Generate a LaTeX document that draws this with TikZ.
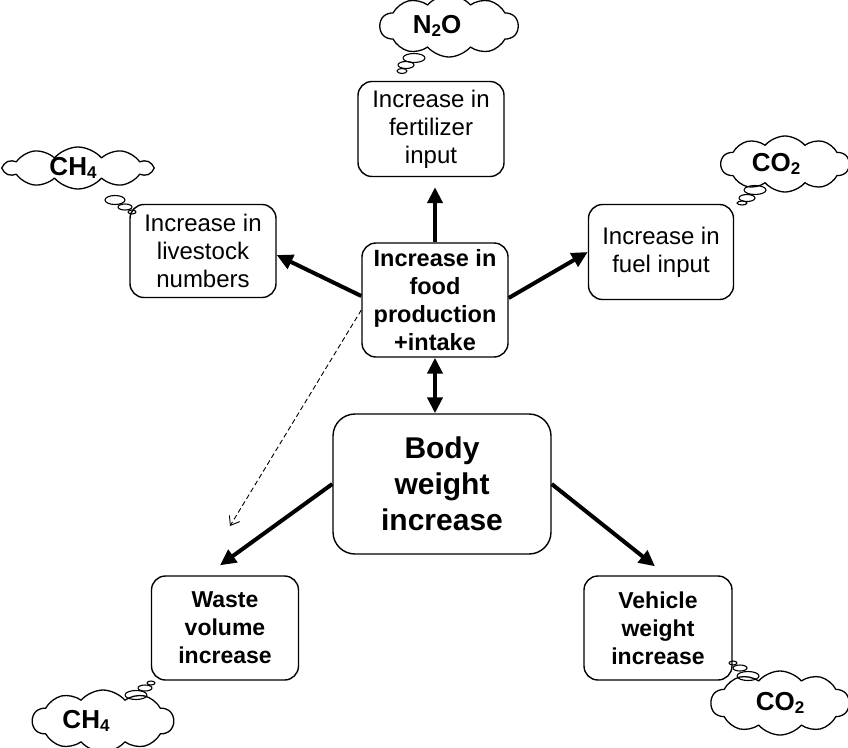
\documentclass[tikz,border=0pt]{standalone}
\usepackage{fontspec}
\setmainfont{Liberation Sans}
\usepackage{tikz}
\usetikzlibrary{arrows.meta,shapes.symbols,positioning}

\newcommand{\gassub}[1]{\raisebox{-0.25ex}{\fontsize{17}{17}\selectfont #1}}

\begin{document}
\begin{tikzpicture}[x=1pt,y=-1pt,>={Triangle[length=16pt,width=15pt]},line join=round]
  \tikzstyle{box}=[draw=black,line width=1.4pt,rounded corners=14pt,align=center,inner sep=0pt,font=\fontsize{24}{28}\selectfont]
  \tikzstyle{boldbox}=[box,font=\fontsize{23}{28}\selectfont\bfseries]
  \tikzstyle{gas}=[cloud,cloud puffs=10,cloud puff arc=100,cloud ignores aspect,draw=black,line width=1.3pt,inner sep=0pt,font=\fontsize{26}{26}\selectfont\bfseries]
  \tikzstyle{bubble}=[draw=black,line width=1.1pt]
  \tikzstyle{link}=[line width=4pt]

  \useasboundingbox (0,0) rectangle (848,747);

  %--- Boxes ---
  \node[boldbox, minimum width=146pt, minimum height=114pt,
        font=\fontsize{23.5}{28}\selectfont\bfseries] (food) at (435,300) {Increase in\\food\\production\\+intake};
  \node[boldbox, rounded corners=22pt, minimum width=218pt, minimum height=140pt,
        font=\fontsize{30}{36}\selectfont\bfseries] (body) at (442,484) {Body\\weight\\increase};
  \node[box, minimum width=146pt, minimum height=95pt]  (fert)  at (431,129) {Increase in\\fertilizer\\input}; % top
  \node[box, minimum width=146pt, minimum height=93pt]  (live)  at (203,251) {Increase in\\livestock\\numbers}; % left
  \node[box, minimum width=145pt, minimum height=95pt]  (fuel)  at (661,252) {Increase in\\fuel input};        % right
  \node[boldbox, minimum width=147pt, minimum height=104pt] (waste)   at (225,628) {Waste\\volume\\increase};
  \node[boldbox, minimum width=148pt, minimum height=104pt] (vehicle) at (658,628) {Vehicle\\weight\\increase};

  %--- Gas clouds ---
  \node[gas, minimum width=138pt, minimum height=62pt] (n2o)  at (449,26)  {N\gassub{2}O\hspace*{24pt}};
  \node[gas, minimum width=148pt, minimum height=42pt] (ch4a) at (78,168)  {CH\gassub{4}\hspace*{10pt}};
  \node[gas, minimum width=128pt, minimum height=56pt] (co2a) at (785,164) {CO\gassub{2}\hspace*{18pt}};
  \node[gas, minimum width=141pt, minimum height=62pt] (ch4b) at (103,721) {CH\gassub{4}\hspace*{34pt}};
  \node[gas, minimum width=138pt, minimum height=64pt] (co2b) at (780,703) {CO\gassub{2}};

  % thought bubbles
  \foreach \x/\y/\rx/\ry in {414/58/11/4.5, 406/65/8/3.5, 402/71/5/2.5,
                             115/200/10/4.5, 125/207/7/3, 132/212/4/2,
                             755/190/11/4.5, 747/198/8/3.5, 742/203/5/2,
                             136/695/11/4.5, 145/688/7/3, 151/683/4/2,
                             733/663/4/2, 740/668/7/3, 748/676/11/4.5}
    \draw[bubble] (\x,\y) ellipse [x radius=\rx pt, y radius=\ry pt];

  %--- Links ---
  \coordinate (fertgap) at ([yshift=-10pt]fert.south);
  \coordinate (dashend) at (230,526);
  \path[->,link]
    (food.north) edge (food.north |- fertgap)
    ([yshift=4pt]food.west) edge ([yshift=-4pt]live.east)
    ([yshift=2pt]food.east) edge (fuel.west)
    (body.west) edge ([xshift=-5pt,yshift=10pt]waste.north)
    (body.east) edge ([xshift=-3pt,yshift=9pt]vehicle.north);
  \draw[<->,link] (food.south) -- (food.south |- body.north);

  % dashed link food -> waste
  \draw[dash pattern=on 5pt off 3pt, line width=0.9pt, -{Straight Barb[length=8pt,width=12pt]}]
    ([yshift=-10pt]food.west) -- (dashend);
\end{tikzpicture}
\end{document}
